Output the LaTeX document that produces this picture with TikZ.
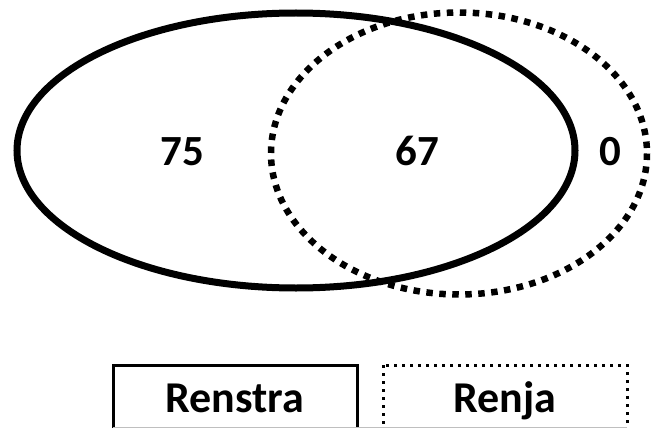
\documentclass[tikz,border=0pt]{standalone}
\usepackage{fontspec}
\setmainfont{Carlito}
\begin{document}
\begin{tikzpicture}[x=1pt,y=-1pt,
  lbl/.style={font=\fontsize{43}{43}\selectfont\bfseries, inner sep=0pt, anchor=base},
  legtxt/.style={font=\fontsize{44}{44}\selectfont\bfseries, inner sep=0pt, anchor=base},
  solidset/.style={line width=7pt},
  dotset/.style={line width=6.5pt, dash pattern=on 6.5pt off 6.5pt},
  solidbox/.style={line width=3pt},
  dotbox/.style={line width=3pt, dash pattern=on 3pt off 5pt}]
\useasboundingbox (0,0) rectangle (651,428);
\fill[white] (0,0) rectangle (651,428);
\clip (0,0) rectangle (651,428);
\coordinate (cA) at (296,150.5);
\coordinate (cB) at (459,153.5);
\draw[solidset] (cA) ellipse [x radius=279, y radius=137.5];
\draw[dotset] (cB) ellipse [x radius=188, y radius=141];
\node[lbl] (n75) at (182,165.5) {75};
\node[lbl] (n67) at (417,165.5) {67};
\node[lbl] (n0) at (610,165.5) {0};
\draw[solidbox] (113,365) rectangle (357,432);
\draw[dotbox] (383,365) rectangle (627,432);
\draw[gray!50, line width=1pt] (113,427.5) -- (627,427.5);
\node[legtxt] (renstra) at (235,412) {Renstra};
\node[legtxt] (renja) at (505,412) {Renja};
\end{tikzpicture}
\end{document}
